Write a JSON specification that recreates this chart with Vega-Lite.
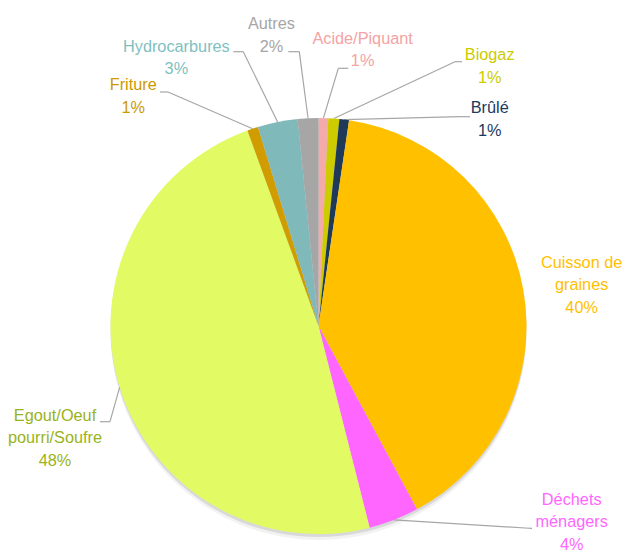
{
  "$schema": "https://vega.github.io/schema/vega-lite/v6.json",
  "width": 613,
  "height": 454,
  "autosize": {"type": "none"},
  "padding": {"left": 12, "top": 99, "right": 0, "bottom": 0},
  "background": "white",
  "config": {"view": {"stroke": null}},
  "data": {
    "values": [
      {"ordre": 1, "cat": "Acide/Piquant", "nom": "Acide/Piquant", "pct": 0.75},
      {"ordre": 2, "cat": "Biogaz", "nom": "Biogaz", "pct": 0.85},
      {"ordre": 3, "cat": "Brûlé", "nom": "Brûlé", "pct": 0.75},
      {"ordre": 4, "cat": "Cuisson de graines", "nom": "Cuisson de\ngraines", "pct": 39.8},
      {"ordre": 5, "cat": "Déchets ménagers", "nom": "Déchets\nménagers", "pct": 3.9},
      {"ordre": 6, "cat": "Egout/Oeuf pourri/Soufre", "nom": "Egout/Oeuf\npourri/Soufre", "pct": 48.4},
      {"ordre": 7, "cat": "Friture", "nom": "Friture", "pct": 0.85},
      {"ordre": 8, "cat": "Hydrocarbures", "nom": "Hydrocarbures", "pct": 3.1},
      {"ordre": 9, "cat": "Autres", "nom": "Autres", "pct": 1.6}
    ]
  },
  "transform": [
    {"calculate": "datum.nom + '\\n' + format(datum.pct / 100, '.0%')", "as": "label"}
  ],
  "layer": [
    {
      "transform": [{"aggregate": [{"op": "sum", "field": "pct", "as": "total"}]}],
      "mark": {"type": "arc", "radius": 208, "y": {"expr": "height/2+6"}, "color": "#000000", "opacity": 0.05},
      "encoding": {"theta": {"field": "total", "type": "quantitative"}}
    },
    {
      "transform": [{"aggregate": [{"op": "sum", "field": "pct", "as": "total"}]}],
      "mark": {"type": "arc", "radius": 208, "y": {"expr": "height/2+3"}, "color": "#000000", "opacity": 0.1},
      "encoding": {"theta": {"field": "total", "type": "quantitative"}}
    },
    {
      "transform": [
        {"stack": "pct", "groupby": [], "sort": [{"field": "ordre", "order": "ascending"}], "offset": "normalize", "as": ["a0", "a1"]},
        {"filter": "datum.ordre !== 4"},
        {"calculate": "(datum.a0 + datum.a1) * PI", "as": "m"},
        {"calculate": "208 * sin(datum.m)", "as": "sx"},
        {"calculate": "-208 * cos(datum.m)", "as": "sy"},
        {"calculate": "[19.8, 136.5, 141.5, 0, 206.5, -208.5, -150.5, -75.2, -19.2][datum.ordre - 1]", "as": "ex"},
        {"calculate": "[-257.7, -264.3, -209.3, 0, 202, 95.7, -234, -274.3, -274.3][datum.ordre - 1]", "as": "ey"}
      ],
      "mark": {"type": "rule", "color": "#A6A6A6", "strokeWidth": 1.2},
      "encoding": {
        "x": {"field": "sx", "type": "quantitative", "scale": {"domain": [-306.5, 306.5], "nice": false, "zero": false}, "axis": null},
        "y": {"field": "sy", "type": "quantitative", "scale": {"domain": [-227, 227], "nice": false, "zero": false, "reverse": true}, "axis": null},
        "x2": {"field": "ex"},
        "y2": {"field": "ey"}
      }
    },
    {
      "transform": [
        {"filter": "datum.ordre !== 4"},
        {"calculate": "[19.8, 136.5, 141.5, 0, 206.5, -208.5, -150.5, -75.2, -19.2][datum.ordre - 1]", "as": "ex"},
        {"calculate": "[-257.7, -264.3, -209.3, 0, 202, 95.7, -234, -274.3, -274.3][datum.ordre - 1]", "as": "ey"},
        {"calculate": "[29.8, 143.5, 151.5, 0, 213.5, -218.5, -158.5, -85.2, -30.2][datum.ordre - 1]", "as": "fx"},
        {"calculate": "[-257.7, -264.3, -209.3, 0, 202.3, 95.7, -234, -274.3, -274.3][datum.ordre - 1]", "as": "fy"}
      ],
      "mark": {"type": "rule", "color": "#A6A6A6", "strokeWidth": 1.2},
      "encoding": {
        "x": {"field": "ex", "type": "quantitative", "scale": {"domain": [-306.5, 306.5], "nice": false, "zero": false}, "axis": null},
        "y": {"field": "ey", "type": "quantitative", "scale": {"domain": [-227, 227], "nice": false, "zero": false, "reverse": true}, "axis": null},
        "x2": {"field": "fx"},
        "y2": {"field": "fy"}
      }
    },
    {
      "mark": {"type": "arc", "radius": 208},
      "encoding": {
        "theta": {"field": "pct", "type": "quantitative", "stack": true},
        "order": {"field": "ordre", "type": "quantitative"},
        "color": {
          "field": "cat",
          "type": "nominal",
          "legend": null,
          "scale": {
            "domain": ["Acide/Piquant", "Biogaz", "Brûlé", "Cuisson de graines", "Déchets ménagers", "Egout/Oeuf pourri/Soufre", "Friture", "Hydrocarbures", "Autres"],
            "range": ["#F4AAAA", "#CCCC00", "#1F3A58", "#FFC000", "#FF66FF", "#E2FA64", "#D09C00", "#80B9BA", "#A6A6A6"]
          }
        }
      }
    },
    {
      "mark": {
        "type": "text",
        "radius": 260,
        "font": "Liberation Sans",
        "fontSize": 16.3,
        "lineBreak": "\n",
        "lineHeight": 22.5,
        "align": "center",
        "baseline": "middle",
        "dx": {"expr": "[38, 152, 139, 7, 159, -15, -103, -91, -34][datum.ordre - 1]"},
        "dy": {"expr": "[-27.25, -11.25, 40.25, -18.5, -68.5, 13.1, 5.75, -24.25, -42.25][datum.ordre - 1]"}
      },
      "encoding": {
        "theta": {"field": "pct", "type": "quantitative", "stack": true},
        "order": {"field": "ordre", "type": "quantitative"},
        "text": {"field": "label", "type": "nominal"},
        "color": {
          "field": "cat",
          "type": "nominal",
          "legend": null,
          "scale": {
            "domain": ["Acide/Piquant", "Biogaz", "Brûlé", "Cuisson de graines", "Déchets ménagers", "Egout/Oeuf pourri/Soufre", "Friture", "Hydrocarbures", "Autres"],
            "range": ["#F5A3A3", "#CCCC00", "#203A5C", "#FFC000", "#FF66FF", "#9AB320", "#CC9900", "#80BFBF", "#A6A6A6"]
          }
        }
      }
    }
  ],
  "resolve": {"scale": {"color": "independent", "theta": "shared"}}
}
